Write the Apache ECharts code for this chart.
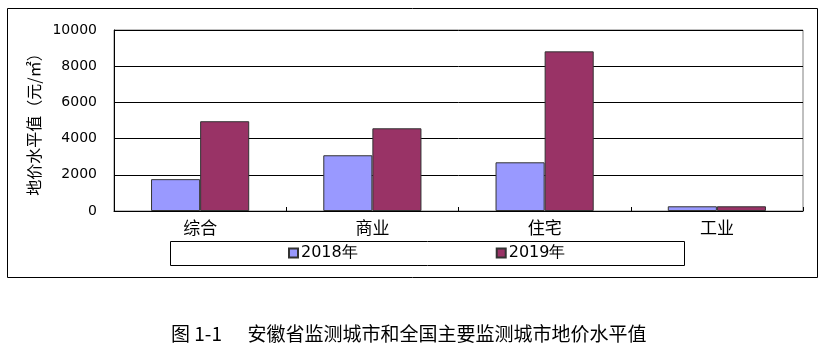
<!DOCTYPE html>
<html><head><meta charset="utf-8">
<script src="https://cdn.jsdelivr.net/npm/echarts@6/dist/echarts.min.js"></script>
<style>html,body{margin:0;padding:0;background:#fff}#c{width:832px;height:358px}</style>
</head><body><div id="c"></div>
<script>
const categories = ['综合', '商业', '住宅', '工业'];
const seriesNames = ['2018年', '2019年'];
const values2018 = [1760, 3080, 2690, 260];
const values2019 = [4960, 4570, 8820, 260];
const yTicks = [0, 2000, 4000, 6000, 8000, 10000];
const yAxisName = '地价水平值（元/㎡）';
const caption = '图 1-1      安徽省监测城市和全国主要监测城市地价水平值';

const chart = echarts.init(document.getElementById('c'), null, {renderer: 'canvas'});
chart.setOption({
  animation: false,
  backgroundColor: '#fff',
  title: {
    text: caption, left: 166, top: 319,
    textStyle: {fontFamily: 'Noto Sans CJK SC', fontSize: 19, fontWeight: 'normal', color: '#000'}
  },
  graphic: [
    {type: 'rect', shape: {x: 7.5, y: 8.5, width: 810, height: 269}, style: {fill: 'none', stroke: '#000', lineWidth: 1}, silent: true, z: -1},
    {type: 'rect', shape: {x: 170.5, y: 241.5, width: 514, height: 24}, style: {fill: '#fff', stroke: '#000', lineWidth: 1}, silent: true, z: 0}
  ],
  legend: {
    data: seriesNames, left: 288, top: 245, itemGap: 138, itemWidth: 9, itemHeight: 9,
    icon: 'rect', padding: 0, z: 5,
    textStyle: {fontFamily: 'DejaVu Sans', fontSize: 16, color: '#000', padding: [0,0,0,-2]}
  },
  grid: {left: 114, top: 30, right: 29, bottom: 147, show: true, borderColor: '#808080', borderWidth: 1},
  xAxis: {
    type: 'category', data: categories,
    axisLine: {lineStyle: {color: '#000', width: 1}},
    axisTick: {show: true, inside: true, length: 4, alignWithLabel: false, lineStyle: {color: '#000'}},
    axisLabel: {fontFamily: 'Noto Sans CJK SC', fontSize: 17, color: '#000', margin: 8}
  },
  yAxis: {
    type: 'value', min: 0, max: 10000, interval: 2000,
    name: yAxisName, nameLocation: 'middle', nameGap: 72, nameRotate: 90,
    nameTextStyle: {fontFamily: 'Noto Sans CJK SC', fontSize: 16, color: '#000'},
    axisLine: {show: true, lineStyle: {color: '#000', width: 1}},
    axisTick: {show: false},
    axisLabel: {fontFamily: 'DejaVu Sans', fontSize: 14, color: '#000', margin: 17,
      formatter: v => yTicks.includes(v) ? String(v) : ''},
    splitLine: {lineStyle: {color: '#000', width: 1}}
  },
  series: [
    {name: seriesNames[0], type: 'bar', data: values2018, barGap: '0%', barCategoryGap: '43%',
     itemStyle: {color: '#9999FF', borderColor: '#333', borderWidth: 1}},
    {name: seriesNames[1], type: 'bar', data: values2019,
     itemStyle: {color: '#993366', borderColor: '#333', borderWidth: 1}}
  ]
});
</script></body></html>
